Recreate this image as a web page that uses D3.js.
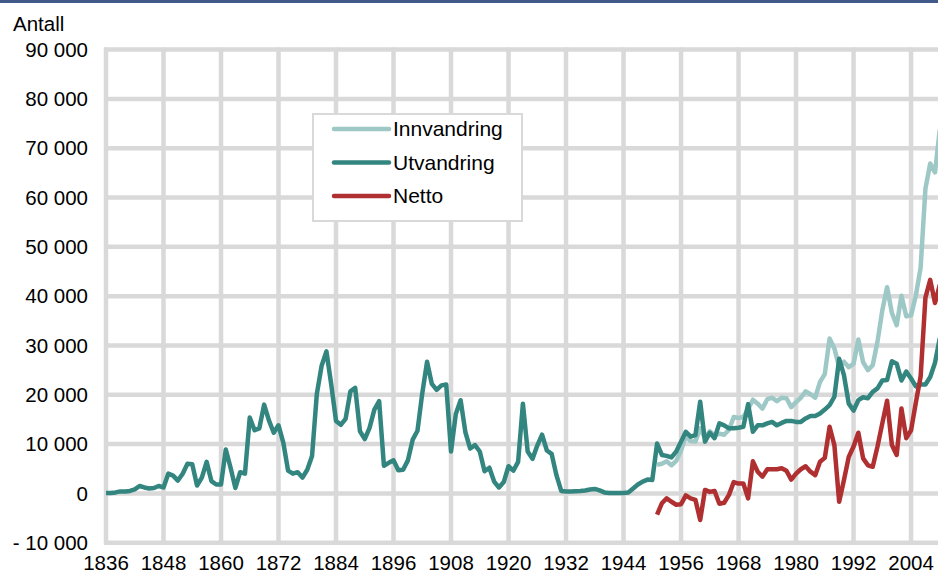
<!DOCTYPE html>
<html>
<head>
<meta charset="utf-8">
<script src="https://cdn.jsdelivr.net/npm/d3@7"></script>
<style>
  body { margin: 0; background: #fff; }
  svg text { font-family: "Liberation Sans", Arial, sans-serif; font-size: 20.5px; fill: #000; }
</style>
</head>
<body>
<div id="chart"></div>
<script>
// Utvandring 1836-2010
var utYears = d3.range(1836, 2011);
var utvandring = [
  100, 100, 200, 400, 400, 500, 800, 1500, 1200, 1000, 1100, 1500, 1200, 4000, 3600,
  2600, 4000, 6000, 5900, 1600, 3200, 6400, 2500, 1800, 1800,
  8900, 5200, 1100, 4300, 4000, 15400, 12800, 13200, 18000, 14800,
  12300, 13800, 10300, 4600, 4000, 4300, 3200, 4800, 7600, 20200,
  25900, 28800, 22100, 14700, 13900, 15100, 20700, 21400, 12600, 11000,
  13300, 17000, 18700, 5600, 6200, 6700, 4700, 4800, 6700, 10900,
  12700, 20300, 26700, 22200, 21000, 21900, 22100, 8500, 16100, 18900,
  12400, 9100, 9800, 8500, 4500, 5200, 2400, 1200, 2300, 5500,
  4600, 6400, 18200, 8500, 7000, 9700, 11900, 8700, 8000, 3700,
  500, 400, 400, 450, 500, 600, 800, 900, 600, 200,
  100, 100, 100, 100, 200, 1000, 1800, 2400, 2800, 2700,
  10100, 7800, 7600, 7300, 8500, 10500, 12500, 11500, 11800, 18600,
  10500, 12300, 11200, 14200, 13800, 13200, 13200, 13300, 13500, 18100,
  12500, 13800, 13800, 14200, 14500, 13800, 14300, 14700, 14700, 14500,
  14500, 15200, 15700, 15700, 16200, 17000, 17900, 19600, 27300, 24000,
  18200, 16800, 18900, 19500, 19300, 20600, 21300, 22900, 23000, 26800,
  26300, 22900, 24700, 23300, 21700, 22100, 22100, 23600, 26500, 31500
];

// Innvandring og netto 1951-2010
var innYears = d3.range(1951, 2011);
var innvandring = [
  5800, 6000, 6500, 5700, 6600, 8700, 11600, 10600, 10500, 13200,
  11200, 12600, 11700, 12100, 11900, 12900, 15500, 15300, 15500, 17100,
  19000, 18200, 17200, 19100, 19400, 18700, 19400, 19300, 17500, 18500,
  19400, 20700, 20100, 19400, 22600, 24200, 31400, 29400, 25600, 26700,
  25600, 26300, 31200, 26600, 25000, 26000, 30800, 37100, 41800, 36600,
  34100, 40100, 35900, 36100, 40100, 45800, 61800, 66900, 65100, 73800
];
var netto = [
  -4300, -2000, -1000, -1700, -2300, -2200, -400, -1000, -1300, -5400,
  700, 300, 500, -2100, -1900, -300, 2300, 2000, 2000, -1000,
  6500, 4400, 3400, 4900, 4900, 4900, 5100, 4600, 2800, 4000,
  4900, 5500, 4400, 3700, 6400, 7200, 13500, 9800, -1700, 2700,
  7400, 9500, 12300, 7100, 5700, 5400, 9500, 14200, 18800, 9800,
  7800, 17200, 11200, 12800, 18400, 23700, 39700, 43300, 38600, 42300
];

var yTicks = d3.range(-10000, 90001, 10000);
var xTicks = d3.range(1836, 2005, 12);

var seriesNames = ["Innvandring", "Utvandring", "Netto"];
var seriesColors = ["#9dc8c6", "#33857f", "#b02f31"];

var svg = d3.select("#chart")
    .append("svg")
    .attr("width", 938)
    .attr("height", 575);

svg.append("rect")
    .attr("x", 0)
    .attr("y", 0)
    .attr("width", 938)
    .attr("height", 3)
    .attr("fill", "#405b8b");

var x = d3.scaleLinear()
    .domain([1836, 2010])
    .range([106, 939.8]);

var y = d3.scaleLinear()
    .domain([-10000, 90000])
    .range([542.7, 49.6]);

var fmt = d3.formatLocale({decimal: ",", thousands: " ", grouping: [3], currency: ["", ""]}).format(",d");
function yLabel(v) { return v < 0 ? "- " + fmt(-v) : fmt(v); }

// gridlines
svg.append("g").selectAll("line")
    .data(yTicks)
  .enter().append("line")
    .attr("x1", 104)
    .attr("x2", 945)
    .attr("y1", function(d) { return y(d); })
    .attr("y2", function(d) { return y(d); })
    .attr("stroke", "#d9d9d9")
    .attr("stroke-width", 4.5);

svg.append("g").selectAll("line")
    .data(xTicks)
  .enter().append("line")
    .attr("x1", function(d) { return x(d); })
    .attr("x2", function(d) { return x(d); })
    .attr("y1", y(90000) - 2)
    .attr("y2", y(-10000) + 2)
    .attr("stroke", "#d9d9d9")
    .attr("stroke-width", 4.5);

// axis labels
svg.append("g").selectAll("text")
    .data(yTicks)
  .enter().append("text")
    .attr("x", 88)
    .attr("y", function(d) { return y(d); })
    .attr("dy", "0.35em")
    .style("text-anchor", "end")
    .text(yLabel);

svg.append("g").selectAll("text")
    .data(xTicks)
  .enter().append("text")
    .attr("x", function(d) { return x(d); })
    .attr("y", 570)
    .style("text-anchor", "middle")
    .text(function(d) { return d; });

svg.append("text")
    .attr("x", 13)
    .attr("y", 31)
    .text("Antall");

// lines
var line = d3.line()
    .x(function(d) { return x(d[0]); })
    .y(function(d) { return y(d[1]); });

var series = [
  d3.zip(innYears, innvandring),
  d3.zip(utYears, utvandring),
  d3.zip(innYears, netto)
];

svg.append("g").selectAll("path")
    .data(series)
  .enter().append("path")
    .attr("d", line)
    .attr("fill", "none")
    .attr("stroke", function(d, i) { return seriesColors[i]; })
    .attr("stroke-width", 4.5)
    .attr("stroke-linejoin", "round");

// legend
var legend = svg.append("g");

legend.append("rect")
    .attr("x", 313)
    .attr("y", 114)
    .attr("width", 209)
    .attr("height", 107)
    .attr("fill", "#fff")
    .attr("stroke", "#d9d9d9")
    .attr("stroke-width", 2);

var item = legend.selectAll(".item")
    .data(seriesNames)
  .enter().append("g")
    .attr("class", "item")
    .attr("transform", function(d, i) { return "translate(0," + (129 + i * 33.5) + ")"; });

item.append("line")
    .attr("x1", 334)
    .attr("x2", 389)
    .attr("stroke", function(d, i) { return seriesColors[i]; })
    .attr("stroke-width", 4.5)
    .attr("stroke-linecap", "round");

item.append("text")
    .attr("x", 393)
    .attr("dy", "0.35em")
    .style("font-size", "21px")
    .text(function(d) { return d; });
</script>
</body>
</html>
